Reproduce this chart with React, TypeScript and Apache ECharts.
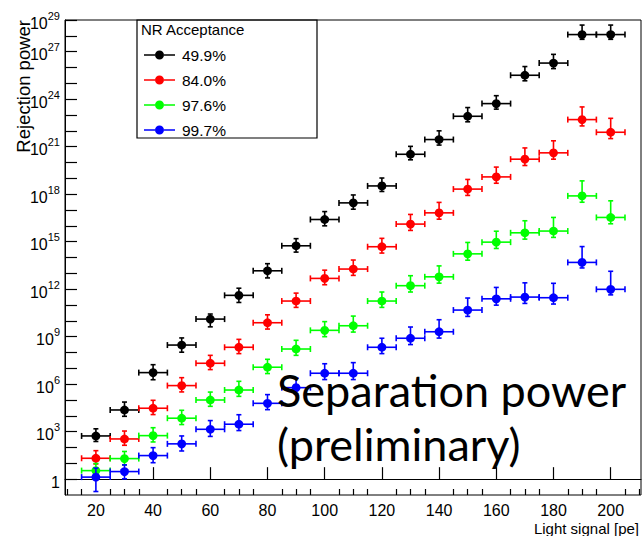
import React, { useEffect, useRef } from "react";
import * as echarts from "echarts";

// Light signal bin centres [pe] and half bin width
const lightSignal = [20, 30, 40, 50, 60, 70, 80, 90, 100, 110, 120, 130, 140, 150, 160, 170, 180, 190, 200];
const binHalfWidth = 5;

// NR acceptance labels and colours
const acceptanceLabels = ["49.9%", "84.0%", "97.6%", "99.7%"];
const seriesColors = ["#000000", "#ff0000", "#00ff00", "#0000ff"];

// log10(rejection power) per acceptance
const logRej499 = [2.73, 4.37, 6.73, 8.47, 10.11, 11.61, 13.16, 14.74, 16.4, 17.45, 18.52, 20.52, 21.45, 22.92, 23.72, 25.51, 26.28, 28.08, 28.08];
const logRej840 = [1.32, 2.54, 4.48, 5.91, 7.32, 8.33, 9.88, 11.25, 12.68, 13.27, 14.68, 16.11, 16.82, 18.32, 19.09, 20.21, 20.61, 22.71, 21.91];
const logRej976 = [0.54, 1.3, 2.75, 3.85, 5.0, 5.63, 7.07, 8.22, 9.4, 9.69, 11.25, 12.22, 12.78, 14.23, 14.97, 15.56, 15.67, 17.89, 16.53];
const logRej997 = [0.13, 0.48, 1.49, 2.23, 3.15, 3.47, 4.79, 5.78, 6.69, 6.69, 8.33, 8.9, 9.31, 10.68, 11.39, 11.5, 11.46, 13.69, 11.99];

// upper / lower errors, in decades
const errUp499 = [0.45, 0.5, 0.5, 0.45, 0.32, 0.45, 0.45, 0.45, 0.5, 0.5, 0.5, 0.5, 0.55, 0.55, 0.5, 0.55, 0.55, 0.6, 0.6];
const errDn499 = [0.35, 0.4, 0.45, 0.45, 0.49, 0.45, 0.45, 0.4, 0.4, 0.4, 0.35, 0.35, 0.35, 0.35, 0.35, 0.35, 0.35, 0.3, 0.3];
const errUp840 = [0.48, 0.5, 0.5, 0.5, 0.5, 0.5, 0.5, 0.5, 0.52, 0.57, 0.53, 0.61, 0.66, 0.61, 0.62, 0.71, 0.76, 0.8, 0.88];
const errDn840 = [0.36, 0.4, 0.4, 0.4, 0.4, 0.4, 0.4, 0.4, 0.4, 0.4, 0.4, 0.4, 0.4, 0.4, 0.4, 0.4, 0.4, 0.4, 0.4];
const errUp976 = [0.45, 0.45, 0.5, 0.5, 0.5, 0.55, 0.5, 0.55, 0.55, 0.61, 0.57, 0.63, 0.69, 0.72, 0.69, 0.76, 0.86, 0.95, 1.05];
const errDn976 = [0.4, 0.4, 0.4, 0.4, 0.4, 0.4, 0.4, 0.4, 0.4, 0.4, 0.4, 0.4, 0.4, 0.4, 0.4, 0.4, 0.4, 0.4, 0.4];
const errUp997 = [0.57, 0.42, 0.5, 0.5, 0.55, 0.6, 0.55, 0.6, 0.6, 0.67, 0.57, 0.71, 0.76, 0.76, 0.72, 0.9, 0.91, 1.0, 1.14];
const errDn997 = [0.91, 0.46, 0.45, 0.45, 0.45, 0.4, 0.4, 0.4, 0.4, 0.4, 0.4, 0.4, 0.4, 0.4, 0.4, 0.4, 0.4, 0.35, 0.35];

// axis ticks
const xMajorTicks = [20, 40, 60, 80, 100, 120, 140, 160, 180, 200];
const xMinorTicks = [10, 15, 25, 30, 35, 45, 50, 55, 65, 70, 75, 85, 90, 95, 105, 110, 115, 125, 130, 135, 145, 150, 155, 165, 170, 175, 185, 190, 195, 205, 210];
const yDecadeTicks = [0, 1, 2, 3, 4, 5, 6, 7, 8, 9, 10, 11, 12, 13, 14, 15, 16, 17, 18, 19, 20, 21, 22, 23, 24, 25, 26, 27, 28, 29];
const yLabelDecades = [0, 3, 6, 9, 12, 15, 18, 21, 24, 27, 29];

const FONT = "Liberation Sans";

const allValues = [logRej499, logRej840, logRej976, logRej997];
const allUp = [errUp499, errUp840, errUp976, errUp997];
const allDn = [errDn499, errDn840, errDn976, errDn997];

const legendIcon =
  "path://M0,3.7 H11 V5.3 H0 Z M20,3.7 H31 V5.3 H20 Z M11,4.5 A4.5,4.5 0 1 0 20,4.5 A4.5,4.5 0 1 0 11,4.5 Z";

function renderItem(params: any, api: any) {
  const x = api.value(0);
  const y = api.value(1);
  const up = api.value(2);
  const dn = api.value(3);
  const c = api.coord([x, y]);
  const l = api.coord([x - binHalfWidth, y]);
  const r = api.coord([x + binHalfWidth, y]);
  const t = api.coord([x, y + up]);
  const b = api.coord([x, y - dn]);
  const color = api.visual("color");
  const st = { stroke: color, lineWidth: 1.6 };
  return {
    type: "group",
    children: [
      { type: "line", shape: { x1: l[0], y1: c[1], x2: r[0], y2: c[1] }, style: st },
      { type: "line", shape: { x1: l[0], y1: c[1] - 3, x2: l[0], y2: c[1] + 3 }, style: st },
      { type: "line", shape: { x1: r[0], y1: c[1] - 3, x2: r[0], y2: c[1] + 3 }, style: st },
      { type: "line", shape: { x1: c[0], y1: t[1], x2: c[0], y2: b[1] }, style: st },
      { type: "line", shape: { x1: c[0] - 2.5, y1: t[1], x2: c[0] + 2.5, y2: t[1] }, style: st },
      { type: "line", shape: { x1: c[0] - 2.5, y1: b[1], x2: c[0] + 2.5, y2: b[1] }, style: st },
      { type: "circle", shape: { cx: c[0], cy: c[1], r: 4.4 }, style: { fill: color } },
    ],
  };
}

export default function App() {
  const ref = useRef<HTMLDivElement>(null);
  useEffect(() => {
    if (!ref.current) return;
    const chart = echarts.init(ref.current, null, { renderer: "svg" });
    const series = acceptanceLabels.map((name, i) => ({
      type: "custom",
      name,
      renderItem,
      itemStyle: { color: seriesColors[i] },
      encode: { x: 0, y: 1 },
      clip: true,
      data: lightSignal.map((x, j) => [x, allValues[i][j], allUp[i][j], allDn[i][j]]),
    }));
    chart.setOption({
      animation: false,
      backgroundColor: "#ffffff",
      textStyle: { fontFamily: FONT },
      grid: { left: 65, right: 1, top: 20, bottom: 41, show: true, borderColor: "#000", borderWidth: 1 },
      xAxis: [
        {
          type: "value",
          min: 9.2,
          max: 210.6,
          axisLine: { show: true, lineStyle: { color: "#000", width: 1 } },
          axisTick: { show: true, inside: true, length: 12, customValues: xMajorTicks, lineStyle: { color: "#000", width: 1.2 } },
          axisLabel: { show: true, customValues: xMajorTicks, fontSize: 16, lineHeight: 16, color: "#000", margin: 7, fontFamily: FONT },
          splitLine: { show: false },
        },
        {
          type: "value",
          position: "bottom",
          min: 9.2,
          max: 210.6,
          axisLine: { show: false },
          axisTick: { show: true, inside: true, length: 6, customValues: xMinorTicks, lineStyle: { color: "#000", width: 1.2 } },
          axisLabel: { show: false },
          splitLine: { show: false },
        },
      ],
      yAxis: {
        type: "value",
        min: -1,
        max: 29,
        axisLine: { show: true, lineStyle: { color: "#000", width: 1 } },
        axisTick: { show: true, inside: true, length: 12, customValues: yDecadeTicks, lineStyle: { color: "#000", width: 1.2 } },
        axisLabel: {
          show: true,
          customValues: yLabelDecades,
          margin: 5,
          color: "#000",
          formatter: (v: number) => (v === 0 ? "{b|1}" : "{b|10}{s|" + v + "}"),
          rich: {
            b: { fontSize: 16, fontFamily: FONT, color: "#000", lineHeight: 20, padding: [6, 0, 0, 0] },
            s: { fontSize: 11, fontFamily: FONT, color: "#000", lineHeight: 20, verticalAlign: "top" },
          },
        },
        splitLine: { show: false },
      },
      legend: {
        orient: "vertical",
        left: 144,
        top: 47,
        padding: 0,
        itemWidth: 31,
        itemHeight: 9,
        itemGap: 9,
        textStyle: { fontSize: 15.5, fontFamily: FONT, color: "#000", lineHeight: 15, padding: [0, 0, 0, 2] },
        data: acceptanceLabels.map((name) => ({ name, icon: legendIcon })),
      },
      graphic: [
        {
          type: "rect",
          z: 50,
          shape: { x: 137, y: 20, width: 180, height: 118 },
          style: { fill: "rgba(0,0,0,0)", stroke: "#000", lineWidth: 1.2 },
          silent: true,
        },
        {
          type: "text",
          z: 50,
          x: 141,
          y: 29,
          style: { text: "NR Acceptance", fontSize: 15, fontFamily: FONT, fill: "#000", verticalAlign: "middle" },
        },
        {
          type: "text",
          z: 50,
          x: 23,
          y: 20,
          rotation: Math.PI / 2,
          style: { text: "Rejection power", fontSize: 18.5, fontFamily: FONT, fill: "#000", align: "right", verticalAlign: "middle" },
        },
        {
          type: "text",
          z: 50,
          x: 639,
          y: 528,
          style: { text: "Light signal [pe]", fontSize: 15, fontFamily: FONT, fill: "#000", align: "right", verticalAlign: "middle" },
        },
        {
          type: "text",
          z: 100,
          x: 277,
          y: 390,
          style: { text: "Separation power", fontSize: 45, fontFamily: "Lato", fill: "#000", verticalAlign: "middle" },
        },
        {
          type: "text",
          z: 100,
          x: 277,
          y: 444,
          style: { text: "(preliminary)", fontSize: 45, fontFamily: "Lato", fill: "#000", verticalAlign: "middle" },
        },
      ],
      series,
    });
    return () => chart.dispose();
  }, []);
  return <div ref={ref} style={{ width: 642, height: 536, position: "absolute", left: 0, top: 0 }} />;
}
